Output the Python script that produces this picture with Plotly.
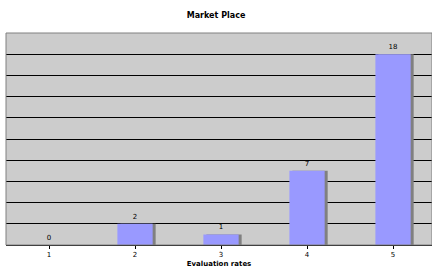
import plotly.graph_objects as go

categories = ["1", "2", "3", "4", "5"]
values = [0, 2, 1, 7, 18]
title_text = "Market Place"
x_title = "Evaluation rates"

FONT = "DejaVu Sans"
bw = 0.41

fig = go.Figure()
# shadow
fig.add_trace(go.Bar(x=[1, 2, 3, 4, 5], y=values, width=bw, offset=-bw / 2 + 0.035,
                     marker=dict(color="#808080", line=dict(width=0)),
                     hoverinfo="skip", showlegend=False))
fig.add_trace(go.Bar(x=[1, 2, 3, 4, 5], y=values, width=bw, offset=-bw / 2,
                     marker=dict(color="#9999FF", line=dict(width=0)),
                     text=[str(v) for v in values], textposition="outside",
                     textfont=dict(family=FONT, size=7, color="#000000"),
                     cliponaxis=False, showlegend=False))

fig.update_layout(
    width=432, height=268,
    margin=dict(l=6, r=0, t=33, b=23),
    paper_bgcolor="white", plot_bgcolor="#CCCCCC",
    barmode="overlay",
    title=dict(text="<b>" + title_text + "</b>", x=0.5, xanchor="center",
               y=1 - 15 / 268, yanchor="middle",
               font=dict(family=FONT, size=8, color="#000000")),
    xaxis=dict(range=[0.5, 5.453], tickvals=[1, 2, 3, 4, 5], ticktext=categories,
               showgrid=False, showline=True, linecolor="#000000", linewidth=1,
               ticks="outside", tickson="boundaries", ticklen=3, tickcolor="#000000",
               tickfont=dict(family=FONT, size=7, color="#000000"),
               title=dict(text="<b>" + x_title + "</b>", standoff=5,
                          font=dict(family=FONT, size=7, color="#000000")),
               zeroline=False, automargin=False),
    yaxis=dict(range=[0, 20], tickvals=[2, 4, 6, 8, 10, 12, 14, 16, 18],
               showticklabels=False, showgrid=True, gridcolor="#000000", gridwidth=1,
               zeroline=False, showline=False, ticks=""),
    shapes=[dict(type="rect", xref="paper", yref="paper", x0=0, x1=1, y0=0, y1=1,
                 line=dict(color="#808080", width=1), layer="above")],
)

fig.write_html("out.html", config={"displayModeBar": False},
               post_script="document.body.style.margin='0';")
